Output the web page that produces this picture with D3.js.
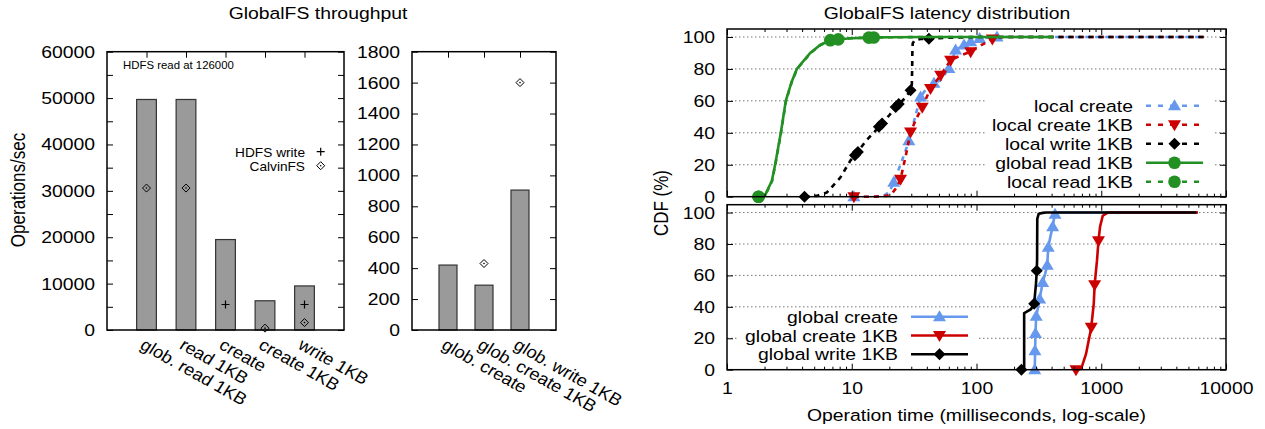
<!DOCTYPE html>
<html>
<head>
<meta charset="utf-8">
<script src="https://cdn.jsdelivr.net/npm/d3@7"></script>
<style>
	body { margin: 0; background: #fff; }
	text { font-family: "Liberation Sans", Arial, sans-serif; fill: #000; }
</style>
</head>
<body>
<script>
(function () {
	//throughput data, left panel
	var tpCats = ["glob. read 1KB", "read 1KB", "create", "create 1KB", "write 1KB"];
	var tpBars = [49700, 49700, 19500, 6300, 9500];
	var tpHdfsWrite = [null, null, 5500, null, 5500];
	var tpCalvin = [30600, 30600, null, 400, 1600];

	//throughput data, right panel
	var tpCats2 = ["glob. create", "glob. create 1KB", "glob. write 1KB"];
	var tpBars2 = [420, 290, 905];
	var tpHdfsWrite2 = [null, null, null];
	var tpCalvin2 = [null, 430, 1600];

	//latency CDFs, [milliseconds, percent]
	var latLocalCreate = [[10.4,0],[14,0],[18,0.5],[20,3],[21.7,9],[24,18],[26.5,27],[28.7,35],[31,45],[33,53],[35.6,62.5],[40,68],[45.6,71],[51.6,73],[60.1,80.3],[68,91.8],[79.4,95],[89.8,97],[106,99],[146,100],[6760,100]];
	var latLocalCreateMarks = [[10.4,0],[21.7,9],[28.7,35],[35.6,62.5],[45.6,71],[60.1,80.3],[68,91.8],[79.4,95],[89.8,97],[106,99],[146,100]];
	var latLocalCreate1KB = [[10.4,0],[15,0],[19,0.5],[21,2],[23,6],[24.6,11],[27,25],[29.6,40.5],[33,49],[36.7,56],[42.8,67.7],[51.6,76],[62,85.5],[75,88.5],[89.8,90.8],[110,95],[134,98.7],[160,100],[6760,100]];
	var latLocalCreate1KBMarks = [[10.4,0],[24.6,11],[29.6,40.5],[36.7,56],[42.8,67.7],[51.6,76],[62,85.5],[89.8,90.8],[134,98.7]];
	var latLocalWrite1KB = [[4.18,0],[5.26,0.5],[6.33,2.7],[8.1,12],[9.75,22.6],[10.9,27],[13,35],[17,44.6],[20,51],[23.1,57],[27,62],[29.6,66.7],[30.3,70],[30.5,80],[30.6,90],[30.8,96],[32,98],[35.6,98.7],[41.5,98.9],[60,99.5],[100,100],[6760,100]];
	var latLocalWrite1KBMarks = [[4.18,0],[10.6,26],[11.2,28],[16.5,43.8],[17.5,45.8],[22.5,56.2],[23.8,58],[29.6,66.7],[41.5,98.9]];
	var latGlobalRead1KB = [[1.79,0],[2.02,1],[2.29,10],[2.43,20],[2.7,40],[2.96,60],[3.3,72],[3.63,80],[4.11,85],[4.65,90],[5.59,95],[6.73,98],[7.8,98.6],[10,99.2],[13.7,99.6],[20,99.8],[40,100],[417,100]];
	var latGlobalRead1KBMarks = [[1.79,0],[6.73,98],[13.7,99.6]];
	var latLocalRead1KB = [[1.79,0],[2.03,1],[2.3,10],[2.44,20],[2.71,40],[2.97,60],[3.31,72],[3.65,80],[4.13,85],[4.68,90],[5.62,95],[6.8,98],[7.9,98.6],[10,99.2],[15,99.7],[20,99.8],[40,100],[417,100]];
	var latLocalRead1KBMarks = [[1.79,0],[7.8,98.5],[15,99.7]];

	var latGlobalCreate = [[293,0],[294,6],[295,12],[297,23],[301,34],[312,40],[321,45],[339,55.5],[355,61],[369,66.5],[376,78],[392,85],[408,91],[418,96],[426,99],[450,100],[5000,100]];
	var latGlobalCreateMarks = [[293,0],[294,12],[297,23],[301,34],[321,45],[339,55.5],[369,66.5],[376,78],[408,91],[426,99]];
	var latGlobalCreate1KB = [[627,0],[690,0.5],[755,10],[830,26.5],[871,42],[885,54],[925,69.7],[950,82],[978,91],[1028,98],[1128,100],[5970,100]];
	var latGlobalCreate1KBMarks = [[627,0],[832,27],[885,54],[950,82]];
	var latGlobalWrite1KB = [[229,0],[241,0.3],[241,36],[273,38.5],[290,42],[300,55],[304,63],[306,70],[307,96],[315,99.2],[340,99.8],[360,100],[5800,100]];
	var latGlobalWrite1KBMarks = [[229,0],[290,42],[304,63]];

	//tick values
	var latMajorTicks = [1, 10, 100, 1000, 10000];
	var cdfTicks = [0, 20, 40, 60, 80, 100];

	var S = 1.14; //the reference lettering is a little wider than Arial
	var BLUE = "#6699ee", RED = "#cc0000", GREEN = "#239023";

	var svg = d3.select("body").append("svg")
		.attr("width", 1265)
		.attr("height", 429);

	//horizontal text, stretched around its anchor
	function txt(x, y, s, size, anchor, rot) {
		return svg.append("text")
			.attr("transform", "translate(" + x + "," + y + ") scale(" + S + ",1)" + (rot ? " rotate(" + rot + ")" : ""))
			.attr("text-anchor", anchor || "start")
			.style("font-size", size + "px")
			.text(s);
	}

	function fixAxis(g, size) {
		g.select(".domain").remove();
		g.selectAll(".tick line").attr("stroke", "#000");
		g.selectAll(".tick text").each(function () {
			var t = d3.select(this);
			t.attr("x", (+t.attr("x") || 0) / S).attr("transform", "scale(" + S + ",1)");
		}).style("font-size", size + "px");
	}

	var SYM = {
		up: "M0,-6.5L6.5,4.5L-6.5,4.5Z",
		down: "M0,6.5L6.5,-4.5L-6.5,-4.5Z",
		diamond: "M0,-6L6,0L0,6L-6,0Z",
		circle: d3.symbol().type(d3.symbolCircle).size(125)()
	};

	function plus(g, x, y) {
		g.append("path").attr("d", "M" + (x - 4) + "," + y + "H" + (x + 4) + "M" + x + "," + (y - 4) + "V" + (y + 4))
			.attr("stroke", "#000").attr("stroke-width", 1.2);
	}
	function openDiamond(g, x, y) {
		g.append("path").attr("d", "M" + x + "," + (y - 4) + "L" + (x + 4) + "," + y + "L" + x + "," + (y + 4) + "L" + (x - 4) + "," + y + "Z")
			.attr("fill", "none").attr("stroke", "#000").attr("stroke-width", 1);
		g.append("circle").attr("cx", x).attr("cy", y).attr("r", 0.8).attr("fill", "#000");
	}

	//one bar panel of the throughput chart
	function barPanel(x0, x1, cats, bars, hdfs, calvin, ymax, minor, major) {
		var x = d3.scaleLinear().domain([0, cats.length + 1]).range([x0, x1]);
		var y = d3.scaleLinear().domain([0, ymax]).range([330, 51.7]);
		var idx = d3.range(1, cats.length + 1);
		var g = svg.append("g");

		var bw = x(0.5) - x(0);
		g.selectAll(".bar").data(bars).enter().append("rect")
			.attr("class", "bar")
			.attr("x", function (d, i) { return x(i + 1) - bw / 2; })
			.attr("y", function (d) { return y(d); })
			.attr("width", bw)
			.attr("height", function (d) { return y(0) - y(d); })
			.attr("fill", "#9a9a9a")
			.attr("stroke", "#333")
			.attr("stroke-width", 1.2);

		hdfs.forEach(function (d, i) { if (d != null) plus(g, x(i + 1), y(d)); });
		calvin.forEach(function (d, i) { if (d != null) openDiamond(g, x(i + 1), y(d)); });

		var ticks = d3.range(0, ymax + 1, minor);
		var ya = g.append("g").attr("transform", "translate(" + x0 + ",0)")
			.call(d3.axisLeft(y).tickValues(ticks).tickSize(-6).tickPadding(12)
				.tickFormat(function (d) { return d % major === 0 ? d3.format("d")(d) : ""; }));
		fixAxis(ya, 17);
		var yb = g.append("g").attr("transform", "translate(" + x1 + ",0)")
			.call(d3.axisRight(y).tickValues(ticks).tickSize(-6).tickFormat(""));
		fixAxis(yb, 17);
		var xt = g.append("g").attr("transform", "translate(0,51.7)")
			.call(d3.axisTop(x).tickValues(idx).tickSize(-6).tickFormat(""));
		fixAxis(xt, 17);
		var xb = g.append("g").attr("transform", "translate(0,330)")
			.call(d3.axisBottom(x).tickValues(idx).tickSize(0)
				.tickFormat(function (d) { return cats[d - 1]; }));
		xb.select(".domain").remove();
		xb.selectAll(".tick text")
			.attr("x", 0).attr("y", 0).attr("dy", null)
			.attr("text-anchor", "start")
			.attr("transform", "translate(-8,18) scale(1.07,1) rotate(31)")
			.style("font-size", "17px");

		g.append("rect").attr("x", x0).attr("y", 51.7).attr("width", x1 - x0).attr("height", 330 - 51.7)
			.attr("fill", "none").attr("stroke", "#000").attr("stroke-width", 1.5);
		return g;
	}

	barPanel(107, 344, tpCats, tpBars, tpHdfsWrite, tpCalvin, 60000, 5000, 10000);
	barPanel(412, 556, tpCats2, tpBars2, tpHdfsWrite2, tpCalvin2, 1800, 200, 200);

	txt(318, 19, "GlobalFS throughput", 17, "middle");
	txt(25, 190, "Operations/sec", 17, "middle", -90);
	txt(123, 69, "HDFS read at 126000", 10, "start");
	txt(305, 156.5, "HDFS write", 12, "end");
	txt(305, 170.5, "CalvinFS", 12, "end");
	plus(svg, 320.7, 151.7);
	openDiamond(svg, 320.7, 165.7);

	//latency chart
	var xC = d3.scaleLog().domain([1, 10000]).range([727, 1226]);
	var minorTicks = [];
	latMajorTicks.slice(0, -1).forEach(function (d) {
		for (var k = 2; k < 10; k++) minorTicks.push(d * k);
	});

	function cdfPanel(y, series, showLabels, box, leg) {
		var g = svg.append("g");
		var x0 = 727, x1 = 1226, yb = y.range()[0], yt = y.range()[1];

		g.selectAll(".grid").data(cdfTicks.slice(1)).enter().append("line")
			.attr("x1", x0).attr("x2", x1)
			.attr("y1", function (d) { return y(d); })
			.attr("y2", function (d) { return y(d); })
			.attr("stroke", "#777").attr("stroke-width", 1)
			.attr("stroke-dasharray", "1.5,2.5");

		g.append("rect").attr("x", box[0]).attr("y", box[1]).attr("width", box[2]).attr("height", box[3])
			.attr("fill", "#fff");

		var line = d3.line()
			.x(function (d) { return xC(d[0]); })
			.y(function (d) { return y(d[1]); });

		series.forEach(function (s) {
			g.append("path").datum(s.data)
				.attr("d", line)
				.attr("fill", "none")
				.attr("stroke", s.color)
				.attr("stroke-width", 2.6)
				.attr("stroke-dasharray", s.dash ? "5,5" : null);
			g.selectAll(null).data(s.marks).enter().append("path")
				.attr("transform", function (d) { return "translate(" + xC(d[0]) + "," + y(d[1]) + ")"; })
				.attr("d", SYM[s.sym])
				.attr("fill", s.color);
		});

		//legend
		series.forEach(function (s, i) {
			var cy = leg.y + i * leg.dy;
			txt(leg.x, cy + 6, s.name, 17, "end");
			g.append("line").attr("x1", leg.x + 13).attr("x2", leg.x + 70).attr("y1", cy).attr("y2", cy)
				.attr("stroke", s.color).attr("stroke-width", 2.6)
				.attr("stroke-dasharray", s.dash ? "5,7" : null);
			g.append("path").attr("transform", "translate(" + (leg.x + 41.5) + "," + cy + ")")
				.attr("d", SYM[s.sym]).attr("fill", s.color);
		});

		var a;
		a = g.append("g").attr("transform", "translate(0," + yb + ")")
			.call(d3.axisBottom(xC).tickValues(latMajorTicks).tickSize(-6).tickPadding(12)
				.tickFormat(showLabels ? d3.format("d") : ""));
		fixAxis(a, 17);
		a = g.append("g").attr("transform", "translate(0," + yb + ")")
			.call(d3.axisBottom(xC).tickValues(minorTicks).tickSize(-3).tickFormat(""));
		fixAxis(a, 17);
		a = g.append("g").attr("transform", "translate(0," + yt + ")")
			.call(d3.axisTop(xC).tickValues(latMajorTicks).tickSize(-6).tickFormat(""));
		fixAxis(a, 17);
		a = g.append("g").attr("transform", "translate(0," + yt + ")")
			.call(d3.axisTop(xC).tickValues(minorTicks).tickSize(-3).tickFormat(""));
		fixAxis(a, 17);
		a = g.append("g").attr("transform", "translate(" + x0 + ",0)")
			.call(d3.axisLeft(y).tickValues(cdfTicks).tickSize(-6).tickPadding(12));
		fixAxis(a, 17);
		a = g.append("g").attr("transform", "translate(" + x1 + ",0)")
			.call(d3.axisRight(y).tickValues(cdfTicks).tickSize(-6).tickFormat(""));
		fixAxis(a, 17);

		g.append("rect").attr("x", x0).attr("y", yt).attr("width", x1 - x0).attr("height", yb - yt)
			.attr("fill", "none").attr("stroke", "#000").attr("stroke-width", 1.5);
	}

	var yTop = d3.scaleLinear().domain([0, 105]).range([196.7, 29]);
	var yBot = d3.scaleLinear().domain([0, 105]).range([369.7, 204.7]);

	cdfPanel(yTop, [
		{ name: "local create", data: latLocalCreate, marks: latLocalCreateMarks, color: BLUE, dash: true, sym: "up" },
		{ name: "local create 1KB", data: latLocalCreate1KB, marks: latLocalCreate1KBMarks, color: RED, dash: true, sym: "down" },
		{ name: "local write 1KB", data: latLocalWrite1KB, marks: latLocalWrite1KBMarks, color: "#000", dash: true, sym: "diamond" },
		{ name: "global read 1KB", data: latGlobalRead1KB, marks: latGlobalRead1KBMarks, color: GREEN, dash: false, sym: "circle" },
		{ name: "local read 1KB", data: latLocalRead1KB, marks: latLocalRead1KBMarks, color: GREEN, dash: true, sym: "circle" }
	], false, [985, 91, 228, 105], { x: 1133, y: 105.7, dy: 19 });

	cdfPanel(yBot, [
		{ name: "global create", data: latGlobalCreate, marks: latGlobalCreateMarks, color: BLUE, dash: false, sym: "up" },
		{ name: "global create 1KB", data: latGlobalCreate1KB, marks: latGlobalCreate1KBMarks, color: RED, dash: false, sym: "down" },
		{ name: "global write 1KB", data: latGlobalWrite1KB, marks: latGlobalWrite1KBMarks, color: "#000", dash: false, sym: "diamond" }
	], true, [737, 308.5, 241, 60], { x: 898, y: 316.7, dy: 18.8 });

	txt(947, 18.5, "GlobalFS latency distribution", 17, "middle");
	txt(668, 203, "CDF (%)", 17, "middle", -90);
	txt(976.5, 421, "Operation time (milliseconds, log-scale)", 17, "middle");
})();
</script>
</body>
</html>
